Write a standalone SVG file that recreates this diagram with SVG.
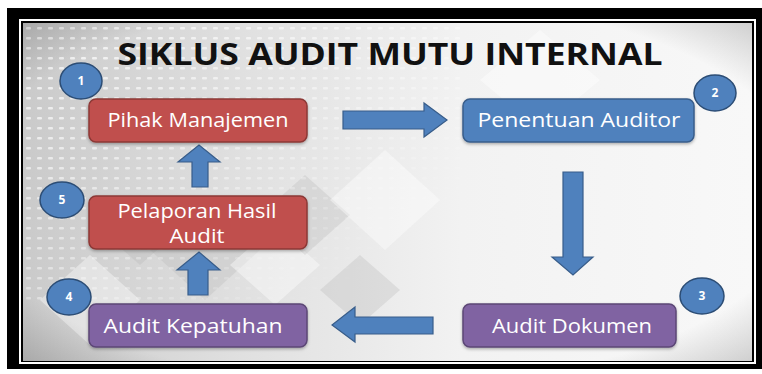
<svg xmlns="http://www.w3.org/2000/svg" width="762" height="374" viewBox="0 0 762 374">
<defs>
<linearGradient id="bg" x1="0" y1="0" x2="1" y2="0">
<stop offset="0" stop-color="#cacaca"/>
<stop offset="0.3" stop-color="#e0e0e0"/>
<stop offset="0.6" stop-color="#f2f2f2"/>
<stop offset="1" stop-color="#f8f8f8"/>
</linearGradient>
<radialGradient id="vig" cx="0.5" cy="0.5" r="0.72">
<stop offset="0.8" stop-color="#000" stop-opacity="0"/>
<stop offset="1" stop-color="#000" stop-opacity="0.18"/>
</radialGradient>
<pattern id="dots" x="24" y="24" width="11" height="10" patternUnits="userSpaceOnUse">
<rect x="2" y="3" width="5" height="2.5" rx="1" fill="#ffffff" opacity="0.8"/>
</pattern>
<linearGradient id="dotfade" x1="0" y1="0" x2="1" y2="1">
<stop offset="0" stop-color="#fff" stop-opacity="1"/>
<stop offset="0.5" stop-color="#fff" stop-opacity="0.5"/>
<stop offset="0.85" stop-color="#fff" stop-opacity="0"/>
</linearGradient>
<mask id="dm"><rect x="24" y="24" width="440" height="280" fill="url(#dotfade)"/></mask>
<filter id="sh" x="-10%" y="-20%" width="120%" height="150%">
<feDropShadow dx="0" dy="1.5" stdDeviation="1.5" flood-color="#000" flood-opacity="0.3"/>
</filter>
<style>
.box text{font-family:"Open Sans","Liberation Sans",sans-serif;font-size:20px;fill:#fff;text-anchor:middle}
.box rect{filter:url(#sh)}
.red{fill:#c0504d;stroke:#8c3836;stroke-width:1.5}
.blue{fill:#4f81bd;stroke:#385d8a;stroke-width:1.5}
.purple{fill:#8064a2;stroke:#5c4776;stroke-width:1.5}
.num{fill:#4f81bd;stroke:#2c4d75;stroke-width:1.5}
.numt{font-family:"Open Sans","Liberation Sans",sans-serif;font-size:12px;font-weight:bold;fill:#fff;text-anchor:middle}
.arrow{fill:#4f81bd;stroke:#385d8a;stroke-width:1.2}
.dia{fill:#ffffff;opacity:0.4}
.dia2{fill:#b5b5b5;opacity:0.3}
</style>
</defs>
<!-- frame -->
<rect x="0" y="0" width="762" height="374" fill="#fff"/>
<rect x="7" y="8" width="755" height="361" fill="#000"/>
<rect x="20" y="20" width="735" height="343" fill="none" stroke="#fff" stroke-width="2"/>
<!-- background -->
<rect x="23" y="23" width="729" height="338" fill="url(#bg)"/>
<g>
<polygon class="dia2" points="150,250 205,200 260,250 205,300"/>
<polygon class="dia" points="230,265 275,225 320,265 275,305"/>
<polygon class="dia2" points="260,215 305,175 350,215 305,255"/>
<polygon class="dia" points="330,200 385,150 440,200 385,250"/>
<polygon class="dia2" points="100,230 140,195 180,230 140,265"/>
<polygon class="dia" points="480,80 540,30 600,80 540,130"/>
<polygon class="dia" points="40,300 90,255 140,300 90,345"/>
<polygon class="dia2" points="320,290 360,255 400,290 360,325"/>
</g>
<rect x="24" y="24" width="440" height="280" fill="url(#dots)" mask="url(#dm)"/>
<rect x="23" y="23" width="729" height="338" fill="url(#vig)"/>
<!-- title -->
<text x="390" y="65" font-family="Open Sans, Liberation Sans, sans-serif" font-size="31" font-weight="bold" fill="#111" text-anchor="middle" textLength="545" lengthAdjust="spacingAndGlyphs">SIKLUS AUDIT MUTU INTERNAL</text>
<!-- connectors -->
<g id="connectors">
<polygon class="arrow" points="343,111 424,111 424,103 447,120 424,137 424,129 343,129"/>
<polygon class="arrow" points="563,172 583,172 583,257 593,257 573,275 552,257 563,257"/>
<polygon class="arrow" points="433,317 355,317 355,307 332,325 355,342 355,334 433,334"/>
<polygon class="arrow" points="188,295 208,295 208,270 220,270 199,252 177,270 188,270"/>
<polygon class="arrow" points="192,187 208,187 208,162 220,162 199,145 178,162 192,162"/>
</g>
<!-- nodes -->
<g id="node1" class="box">
<rect class="red" x="89" y="99" width="218" height="43" rx="7"/>
<text x="198" y="127" textLength="181" lengthAdjust="spacingAndGlyphs">Pihak Manajemen</text>
</g>
<g id="node2" class="box">
<rect class="blue" x="463" y="99" width="231" height="43" rx="7"/>
<text x="579" y="127" textLength="203" lengthAdjust="spacingAndGlyphs">Penentuan Auditor</text>
</g>
<g id="node3" class="box">
<rect class="purple" x="463" y="304" width="213" height="43" rx="7"/>
<text x="572" y="333" textLength="160" lengthAdjust="spacingAndGlyphs">Audit Dokumen</text>
</g>
<g id="node4" class="box">
<rect class="purple" x="89" y="304" width="218" height="43" rx="7"/>
<text x="193" y="333" textLength="179" lengthAdjust="spacingAndGlyphs">Audit Kepatuhan</text>
</g>
<g id="node5" class="box">
<rect class="red" x="89" y="196" width="218" height="53" rx="7"/>
<text x="197" y="218" textLength="159" lengthAdjust="spacingAndGlyphs">Pelaporan Hasil</text>
<text x="197" y="243" textLength="55" lengthAdjust="spacingAndGlyphs">Audit</text>
</g>
<!-- number badges -->
<g id="badge1"><ellipse class="num" cx="81" cy="81" rx="21" ry="18"/><text class="numt" x="81" y="85">1</text></g>
<g id="badge2"><ellipse class="num" cx="715" cy="93" rx="21" ry="18"/><text class="numt" x="715" y="97">2</text></g>
<g id="badge3"><ellipse class="num" cx="702" cy="296" rx="22" ry="18"/><text class="numt" x="702" y="300">3</text></g>
<g id="badge4"><ellipse class="num" cx="69" cy="297" rx="22" ry="18"/><text class="numt" x="69" y="301">4</text></g>
<g id="badge5"><ellipse class="num" cx="62" cy="200" rx="22" ry="18"/><text class="numt" x="62" y="204">5</text></g>
</svg>
